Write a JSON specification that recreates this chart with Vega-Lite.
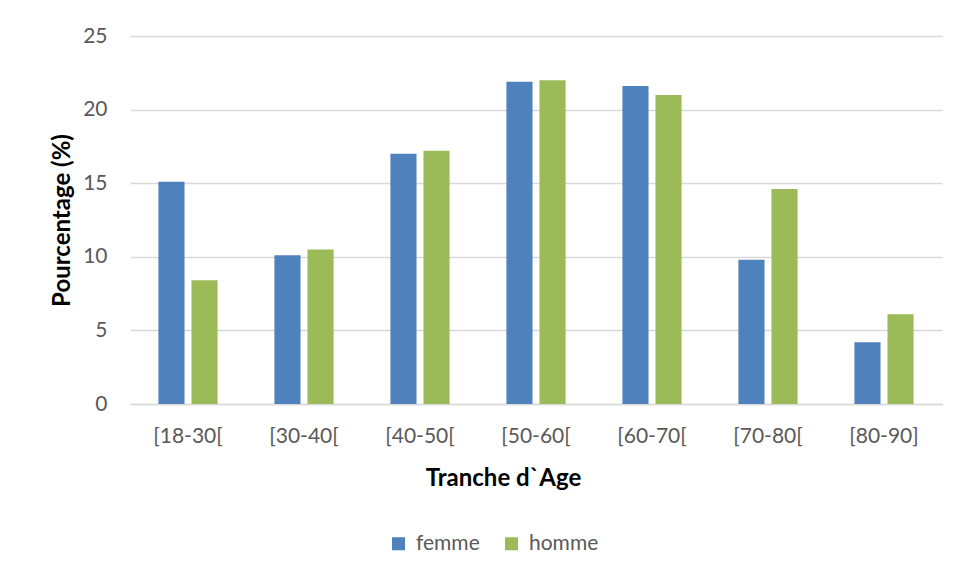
{
  "$schema": "https://vega.github.io/schema/vega-lite/v6.json",
  "width": 812,
  "height": 368,
  "autosize": {"type": "none"},
  "padding": {"left": 130, "top": 36, "right": 16, "bottom": 175},
  "background": "white",
  "data": {
    "values": [
      {"tranche": "[18-30[", "sexe": "femme", "pct": 15.1},
      {"tranche": "[18-30[", "sexe": "homme", "pct": 8.4},
      {"tranche": "[30-40[", "sexe": "femme", "pct": 10.1},
      {"tranche": "[30-40[", "sexe": "homme", "pct": 10.5},
      {"tranche": "[40-50[", "sexe": "femme", "pct": 17.0},
      {"tranche": "[40-50[", "sexe": "homme", "pct": 17.2},
      {"tranche": "[50-60[", "sexe": "femme", "pct": 21.9},
      {"tranche": "[50-60[", "sexe": "homme", "pct": 22.0},
      {"tranche": "[60-70[", "sexe": "femme", "pct": 21.6},
      {"tranche": "[60-70[", "sexe": "homme", "pct": 21.0},
      {"tranche": "[70-80[", "sexe": "femme", "pct": 9.8},
      {"tranche": "[70-80[", "sexe": "homme", "pct": 14.6},
      {"tranche": "[80-90]", "sexe": "femme", "pct": 4.2},
      {"tranche": "[80-90]", "sexe": "homme", "pct": 6.1}
    ]
  },
  "mark": {"type": "bar"},
  "encoding": {
    "x": {
      "field": "tranche",
      "type": "nominal",
      "sort": null,
      "scale": {"paddingInner": 0.49, "paddingOuter": 0.245},
      "axis": {
        "title": "Tranche d`Age",
        "titleFont": "Lato",
        "titleFontSize": 24,
        "titleFontWeight": "bold",
        "titleColor": "#000000",
        "titleX": 373,
        "titleY": 74,
        "titleBaseline": "middle",
        "titleAlign": "center",
        "labelAngle": 0,
        "labelFont": "Lato",
        "labelFontSize": 21,
        "labelColor": "#595959",
        "labelPadding": 21,
        "ticks": false,
        "domainColor": "#D9D9D9",
        "domainWidth": 1.5,
        "grid": false
      }
    },
    "xOffset": {
      "field": "sexe",
      "type": "nominal",
      "scale": {"paddingInner": 0.21, "paddingOuter": 0}
    },
    "y": {
      "field": "pct",
      "type": "quantitative",
      "scale": {"domain": [0, 25], "nice": false},
      "axis": {
        "title": "Pourcentage (%)",
        "titleFont": "Lato",
        "titleFontSize": 24,
        "titleFontWeight": "bold",
        "titleColor": "#000000",
        "titleAngle": -90,
        "titleX": -68,
        "titleY": 184,
        "titleBaseline": "middle",
        "titleAlign": "center",
        "values": [0, 5, 10, 15, 20, 25],
        "labelFont": "Lato",
        "labelFontSize": 21,
        "labelColor": "#595959",
        "labelPadding": 23,
        "ticks": false,
        "domain": false,
        "grid": true,
        "gridColor": "#D9D9D9",
        "gridWidth": 1.5
      }
    },
    "color": {
      "field": "sexe",
      "type": "nominal",
      "scale": {"domain": ["femme", "homme"], "range": ["#4F81BD", "#9BBB59"]},
      "legend": {
        "title": null,
        "orient": "none",
        "direction": "horizontal",
        "legendX": 258,
        "legendY": 497,
        "padding": 0,
        "symbolType": "square",
        "symbolSize": 169,
        "symbolStrokeWidth": 0,
        "labelFont": "Lato",
        "labelFontSize": 21,
        "labelColor": "#595959",
        "labelOffset": 7,
        "columnPadding": 21
      }
    }
  },
  "config": {
    "view": {"stroke": null},
    "bar": {"stroke": "#FFFFFF", "strokeWidth": 0}
  }
}
